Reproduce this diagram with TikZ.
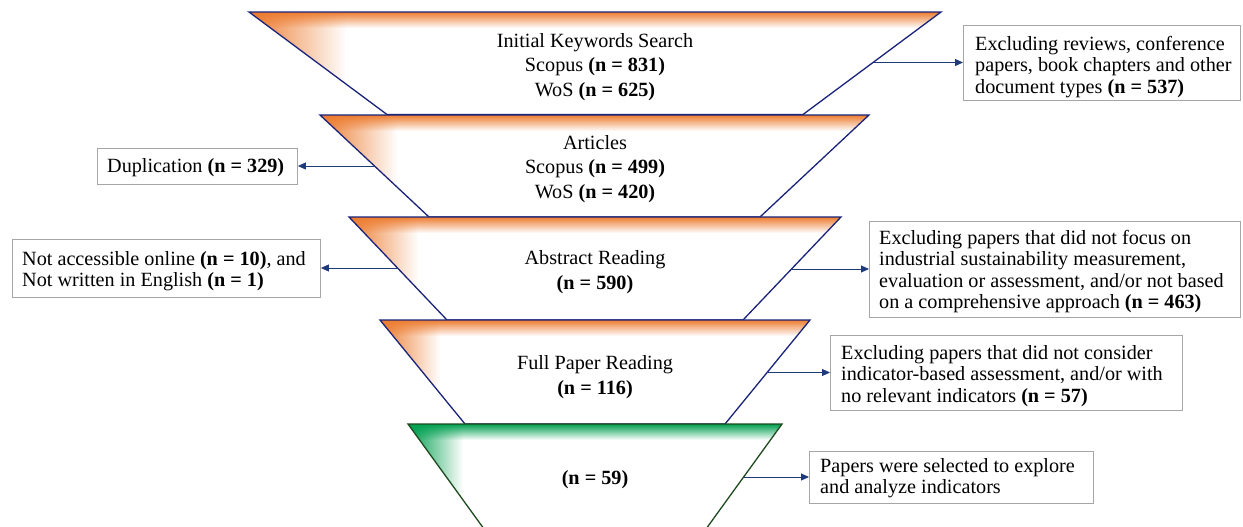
\documentclass[tikz,border=0pt]{standalone}
\usepackage{fontspec}
\setmainfont{Liberation Serif}
\usetikzlibrary{arrows.meta,fadings}
\definecolor{org}{HTML}{ED7D31}
\definecolor{grn}{HTML}{00A050}
\definecolor{navy}{HTML}{1A237A}
\definecolor{arr}{HTML}{1F3A78}
\definecolor{dgrn}{HTML}{1E4A1E}
\definecolor{boxgray}{HTML}{A6A6A6}
\tikzfading[name=fadeR, left color=transparent!0, right color=transparent!100]
\tikzfading[name=fadeD, top color=transparent!0, bottom color=transparent!100]
\newcommand\myfunnel[9]{%
  \begin{scope}
    \clip (#3,#1) -- (#4,#1) -- (#6,#2) -- (#5,#2) -- cycle;
    \fill[white] (#3,#1) rectangle (#4,#2);
    \fill[#7, path fading=fadeR] (#3,#1) rectangle ({#3+#9},#2);
    \fill[#7, path fading=fadeD] (#3,#1) rectangle (#4,{#1+16});
  \end{scope}
  \draw[#8, line width=1.3pt, line join=miter] (#3,#1) -- (#4,#1) -- (#6,#2) -- (#5,#2) -- cycle;
}
\begin{document}
\begin{tikzpicture}[x=1pt,y=-1pt,
  ttext/.style={align=center, inner sep=0pt, font=\fontsize{20.2}{24.5}\selectfont},
  exbox/.style={draw=boxgray, line width=0.9pt, inner sep=0pt, anchor=north west},
  extext/.style={align=left, inner sep=0pt, anchor=west, font=\fontsize{20.2}{21.3}\selectfont},
  exarrow/.style={draw=arr, line width=0.9pt, -{Triangle[length=8pt,width=7pt]}}]
\clip (0,0) rectangle (1243,527);
\fill[white] (0,0) rectangle (1243,527);

% funnels
\myfunnel{12}{114.5}{249}{941}{387}{803}{org}{navy}{97}
\myfunnel{115}{217}{320}{869}{429}{760}{org}{navy}{77}
\myfunnel{217}{320}{349}{841}{447}{743}{org}{navy}{69}
\myfunnel{320}{424}{380}{810}{465}{725}{org}{navy}{60}
\myfunnel{424}{540}{408}{782}{492}{698}{grn}{dgrn}{55}

% funnel texts
\node[ttext] (t1) at (595,67) {Initial Keywords Search\\Scopus \textbf{(n = 831)}\\WoS \textbf{(n = 625)}};
\node[ttext] (t2) at (595,169) {Articles\\Scopus \textbf{(n = 499)}\\WoS \textbf{(n = 420)}};
\node[ttext] (t3) at (595,272) {Abstract Reading\\\textbf{(n = 590)}};
\node[ttext] (t4) at (595,377) {Full Paper Reading\\\textbf{(n = 116)}};
\node[ttext] (t5) at (595,480) {\textbf{(n = 59)}};

% side boxes
\node[exbox, minimum width=277pt, minimum height=75pt] (b1) at (963,25) {};
\node[extext] (l1) at ([xshift=12pt,yshift=-4pt]b1.west)
  {Excluding reviews, conference\\papers, book chapters and other\\document types \textbf{(n = 537)}};
\node[exbox, minimum width=200pt, minimum height=36pt] (b2) at (97,148) {};
\node[extext] (l2) at ([xshift=10pt,yshift=-1pt]b2.west) {Duplication \textbf{(n = 329)}};
\node[exbox, minimum width=308pt, minimum height=58pt] (b3) at (12,239) {};
\node[extext] (l3) at ([xshift=10pt,yshift=-3pt]b3.west)
  {Not accessible online \textbf{(n = 10)}, and\\Not written in English \textbf{(n = 1)}};
\node[exbox, minimum width=371pt, minimum height=96pt] (b4) at (869,221) {};
\node[extext] (l4) at ([xshift=10pt,yshift=-2pt]b4.west)
  {Excluding papers that did not focus on\\industrial sustainability measurement,\\evaluation or assessment, and/or not based\\on a comprehensive approach \textbf{(n = 463)}};
\node[exbox, minimum width=352pt, minimum height=75pt] (b5) at (830,335) {};
\node[extext] (l5) at ([xshift=11pt,yshift=-3pt]b5.west)
  {Excluding papers that did not consider\\indicator-based assessment, and/or with\\no relevant indicators \textbf{(n = 57)}};
\node[exbox, minimum width=284pt, minimum height=52pt] (b6) at (809,451) {};
\node[extext] (l6) at ([xshift=11pt,yshift=-1pt]b6.west)
  {Papers were selected to explore\\and analyze indicators};

% arrow start points on funnel edges
\coordinate (c1) at (874,62.5);
\coordinate (c2) at (374.5,166);
\coordinate (c3) at (397.5,268);
\coordinate (c4) at (791.5,269);
\coordinate (c5) at (767,372.5);
\coordinate (c6) at (744,477);

\draw[exarrow] (c1) -- (c1 -| b1.west);
\draw[exarrow] (c2) -- (c2 -| b2.east);
\draw[exarrow] (c3) -- (c3 -| b3.east);
\draw[exarrow] (c4) -- (c4 -| b4.west);
\draw[exarrow] (c5) -- (c5 -| b5.west);
\draw[exarrow] (c6) -- (c6 -| b6.west);
\end{tikzpicture}
\end{document}
